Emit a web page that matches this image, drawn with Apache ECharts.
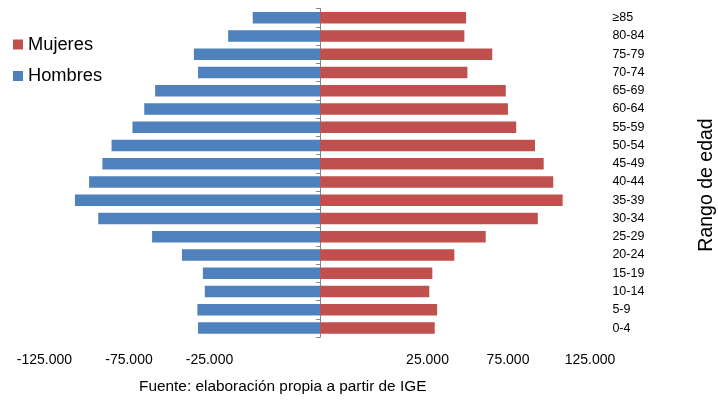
<!DOCTYPE html>
<html><head><meta charset="utf-8">
<script src="https://cdn.jsdelivr.net/npm/echarts@6/dist/echarts.min.js"></script>
<style>html,body{margin:0;padding:0;background:#fff}#c{width:718px;height:407px}</style>
</head><body><div id="c"></div>
<script>
const categories = ['0-4','5-9','10-14','15-19','20-24','25-29','30-34','35-39','40-44','45-49','50-54','55-59','60-64','65-69','70-74','75-79','80-84','≥85'];
const hombres = [56000,56300,52900,53800,63400,77100,101800,112500,106000,99900,95700,86100,80700,75700,56000,57900,42200,30900];
const mujeres = [52600,53700,50100,51500,61600,76000,99900,111300,107000,102600,98600,90000,86200,85200,67600,79000,66200,67000];
const tickLabels = ['-125.000','-75.000','-25.000','25.000','75.000','125.000'];
const sourceText = 'Fuente: elaboración propia a partir de IGE';
const axisTitle = 'Rango de edad';

const FONT = "'Liberation Sans', Arial, sans-serif";
// where each bottom label sits along the axis (as in the picture)
const labelPlaces = [-126480, -87700, -50760, 49290, 86230, 123850];

const chart = echarts.init(document.getElementById('c'), null, {renderer: 'canvas'});
chart.setOption({
  animation: false,
  textStyle: {fontFamily: FONT},
  grid: {left: 15, right: 114.6, top: 8.5, bottom: 69.8, containLabel: false},
  legend: {
    data: ['Mujeres', 'Hombres'], orient: 'vertical', left: 8, top: 29.5,
    itemWidth: 10, itemHeight: 10, itemGap: 11.5, icon: 'rect',
    textStyle: {fontFamily: FONT, fontSize: 18.3, lineHeight: 20, color: '#000'}
  },
  title: {
    text: sourceText, left: 134, top: 374,
    textStyle: {fontFamily: FONT, fontSize: 15.4, fontWeight: 'normal', color: '#000'}
  },
  graphic: [{
    type: 'text', x: 707, y: 185, rotation: Math.PI / 2,
    style: {text: axisTitle, font: "19.5px 'Liberation Sans', Arial, sans-serif", fill: '#000', textAlign: 'center', textVerticalAlign: 'middle'}
  }],
  xAxis: {
    type: 'value', min: -140000, max: 130000,
    axisLine: {show: false}, axisTick: {show: false}, splitLine: {show: false},
    axisLabel: {
      customValues: labelPlaces,
      formatter: (v, i) => tickLabels[labelPlaces.indexOf(v)] ?? tickLabels[i] ?? '',
      fontFamily: FONT, fontSize: 14, color: '#000', margin: 16
    }
  },
  yAxis: [{
    type: 'category', data: categories,
    axisLine: {show: true, onZero: true, lineStyle: {color: '#868686', width: 1}},
    axisTick: {show: true, length: 4, lineStyle: {color: '#868686'}},
    axisLabel: {show: false}
  }, {
    type: 'category', data: categories, position: 'right',
    axisLine: {show: false}, axisTick: {show: false},
    axisLabel: {fontFamily: FONT, fontSize: 12.5, color: '#000', margin: 9, align: 'left'}
  }],
  series: [{
    name: 'Hombres', type: 'bar', stack: 'pop', yAxisIndex: 0,
    data: hombres.map(v => -v), barCategoryGap: '37%',
    itemStyle: {color: '#4F81BD'}
  }, {
    name: 'Mujeres', type: 'bar', stack: 'pop', yAxisIndex: 0,
    data: mujeres, barCategoryGap: '37%',
    itemStyle: {color: '#C0504D'}
  }]
});
</script></body></html>
